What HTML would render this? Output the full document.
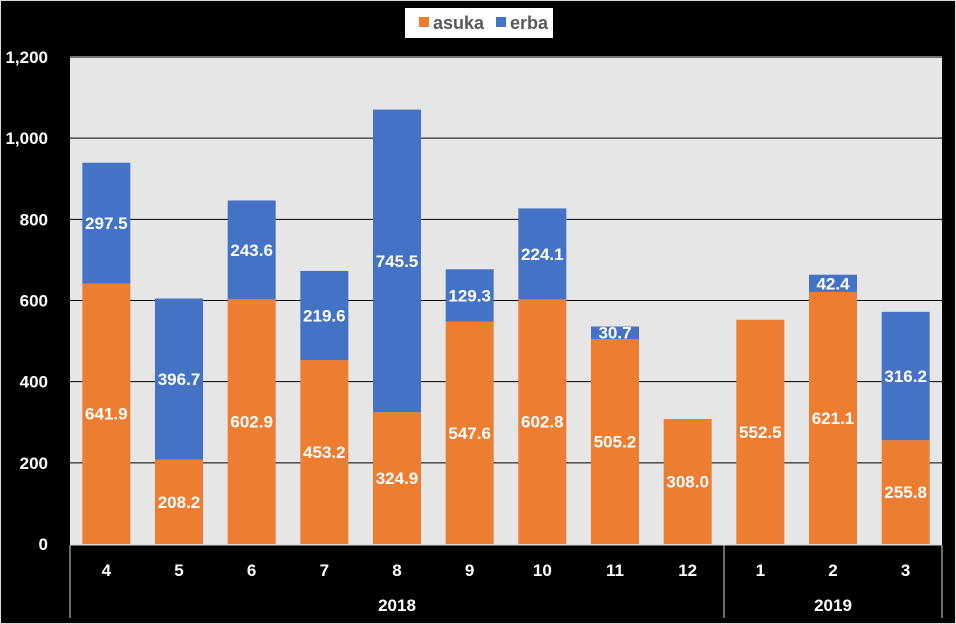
<!DOCTYPE html>
<html><head><meta charset="utf-8"><style>
body{margin:0;background:#000;}
svg{display:block;}
text{font-family:"Liberation Sans Narrow","Liberation Sans",sans-serif;font-weight:bold;}
</style></head><body>
<svg id="chart" width="956" height="624" viewBox="0 0 956 624">
<rect x="0" y="0" width="956" height="624" fill="#000"/>
<rect x="0.5" y="0.5" width="955" height="623" fill="none" stroke="#d9d9d9" stroke-width="1"/>
<rect x="70" y="56" width="872" height="489" fill="#e6e6e6"/>
<g id="grid"></g><g id="bars"></g><g id="labels"></g><g id="axes"></g>
<g>
<rect x="405" y="8" width="148" height="30" fill="#fff"/>
<rect x="419" y="17" width="10" height="10" fill="#ed7d31"/>
<text x="433" y="29" font-size="18" fill="#595959">asuka</text>
<rect x="496" y="17" width="10" height="10" fill="#4472c4"/>
<text x="510" y="29" font-size="18" fill="#595959">erba</text>
</g>
</svg>
<script>
const categories=["4","5","6","7","8","9","10","11","12","1","2","3"];
const asuka=[641.9,208.2,602.9,453.2,324.9,547.6,602.8,505.2,308.0,552.5,621.1,255.8];
const erba=[297.5,396.7,243.6,219.6,745.5,129.3,224.1,30.7,0,0,42.4,316.2];
const yTicks=[0,200,400,600,800,1000,1200];
const yTickLabels=["0","200","400","600","800","1,000","1,200"];
const years=["2018","2019"];
const yearCounts=[9,3];
const NS="http://www.w3.org/2000/svg";
const X0=70,X1=942,Y0=544,Y1=57,YMAX=1200;
const band=(X1-X0)/categories.length;
const y=v=>Y0-(v/YMAX)*(Y0-Y1);
const xc=i=>X0+band*(i+0.5);
function mk(tag,attrs,parent,txt){const e=document.createElementNS(NS,tag);for(const k in attrs)e.setAttribute(k,attrs[k]);if(txt!==undefined)e.textContent=txt;document.getElementById(parent).appendChild(e);return e;}
yTicks.forEach((t,i)=>{
 if(t>0){const g=mk('line',{x1:X0,x2:X1,y1:y(t),y2:y(t),stroke:'#000','stroke-width':1},'grid');
 
 }
 const l=mk('text',{x:48,y:y(t)+6,'font-size':17,fill:'#fff','text-anchor':'end'},'axes',yTickLabels[i]);
 
 
});
const bw=48;
categories.forEach((c,i)=>{
 const a=mk('rect',{x:xc(i)-bw/2,y:y(asuka[i]),width:bw,height:Y0-y(asuka[i]),fill:'#ed7d31'},'bars');
 
 
 const la=mk('text',{x:xc(i),y:(y(asuka[i])+Y0)/2+6,'font-size':17,fill:'#fff','text-anchor':'middle'},'labels',asuka[i].toFixed(1));
 
 
 if(erba[i]>0){
  const top=asuka[i]+erba[i];
  const b=mk('rect',{x:xc(i)-bw/2,y:y(top),width:bw,height:y(asuka[i])-y(top),fill:'#4472c4'},'bars');
  
  
  const lb=mk('text',{x:xc(i),y:(y(top)+y(asuka[i]))/2+6,'font-size':17,fill:'#fff','text-anchor':'middle'},'labels',erba[i].toFixed(1));
  
  
 }
 const cl=mk('text',{x:xc(i),y:576,'font-size':17,fill:'#fff','text-anchor':'middle'},'axes',c);
 
 
});
const ax=mk('line',{x1:X0,x2:X1,y1:545,y2:545,stroke:'#d9d9d9','stroke-width':1},'axes');


let start=0;
const sep0=mk('line',{x1:X0,x2:X0,y1:545,y2:618,stroke:'#d9d9d9','stroke-width':1},'axes');


years.forEach((yr,j)=>{
 const end=start+yearCounts[j];
 const xs=X0+band*start,xe=X0+band*end;
 const s=mk('line',{x1:xe,x2:xe,y1:545,y2:618,stroke:'#d9d9d9','stroke-width':1},'axes');
 
 
 const t=mk('text',{x:(xs+xe)/2,y:611,'font-size':17,fill:'#fff','text-anchor':'middle'},'axes',yr);
 
 
 start=end;
});
</script>
</body></html>
